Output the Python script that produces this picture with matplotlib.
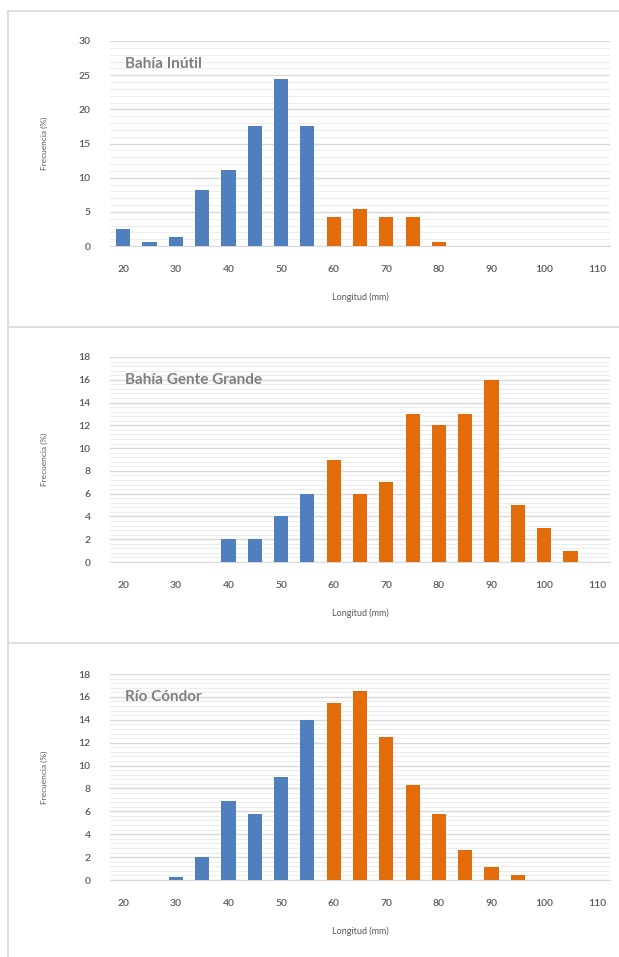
import matplotlib
matplotlib.use("Agg")
import matplotlib.pyplot as plt
from matplotlib.lines import Line2D
from matplotlib.ticker import MultipleLocator

plt.rcParams['font.family'] = ['Lato', 'DejaVu Sans']

# categories: length classes (mm)
longitud = [20, 25, 30, 35, 40, 45, 50, 55, 60, 65, 70, 75, 80, 85, 90, 95, 100, 105, 110]
tick_labels = [20, 30, 40, 50, 60, 70, 80, 90, 100, 110]

sitios = ["Bahía Inútil", "Bahía Gente Grande", "Río Cóndor"]

# frequency (%) per class
bahia_inutil = [2.5, 0.6, 1.3, 8.2, 11.1, 17.5, 24.4, 17.5, 4.2, 5.4, 4.2, 4.2, 0.6, 0, 0, 0, 0, 0, 0]
gente_grande = [0, 0, 0, 0, 2, 2, 4, 6, 9, 6, 7, 13, 12, 13, 16, 5, 3, 1, 0]
rio_condor = [0, 0, 0.3, 2, 6.9, 5.8, 9, 14, 15.5, 16.5, 12.5, 8.3, 5.8, 2.6, 1.1, 0.4, 0, 0, 0]

y_max = [30, 18, 18]
y_step = [5, 2, 2]

corte = 60  # classes from here on are drawn orange
azul = "#4F7FBC"
naranja = "#E36C0A"
gris = "#595959"

fig = plt.figure(figsize=(6.19, 9.57), dpi=100)

W, H = 619, 957
# plot areas in pixels: (top, bottom)
paneles = [(41, 246), (357, 562), (674, 880)]
x0, x1 = 110, 610

for i, serie in enumerate([bahia_inutil, gente_grande, rio_condor]):
    top, bot = paneles[i]
    ax = fig.add_axes([x0 / W, 1 - bot / H, (x1 - x0) / W, (bot - top) / H])
    colores = [azul if l < corte else naranja for l in longitud]
    ax.bar(longitud, serie, width=2.7, color=colores, zorder=3)
    ax.set_xlim(17.5, 112.5)
    ax.set_ylim(0, y_max[i])
    ax.yaxis.set_major_locator(MultipleLocator(y_step[i]))
    ax.yaxis.set_minor_locator(MultipleLocator(y_step[i] / 5))
    ax.set_xticks(tick_labels)
    ax.grid(axis='y', which='major', color='#D9D9D9', linewidth=1.0, zorder=0)
    ax.grid(axis='y', which='minor', color='#EDEDED', linewidth=0.8, zorder=0)
    for s in ['top', 'right', 'left']:
        ax.spines[s].set_visible(False)
    ax.spines['bottom'].set_color('#D9D9D9')
    ax.tick_params(axis='both', which='both', length=0, labelsize=7.5, labelcolor=gris)
    ax.tick_params(axis='x', pad=14)
    ax.tick_params(axis='y', pad=14)
    for lab in ax.get_xticklabels() + ax.get_yticklabels():
        lab.set_fontweight('semibold')
    ax.set_xlabel("Longitud (mm)", fontsize=6.5, color=gris, labelpad=13)
    ax.set_ylabel("Frecuencia (%)", fontsize=6, color=gris, labelpad=22)
    ax.text(0.03, 0.89, sitios[i], transform=ax.transAxes, fontsize=11,
            fontweight='bold', color='#7F7F7F', va='center', ha='left')

# panel frames
borde = '#D9D9D9'
for y in [11, 327, 643]:
    fig.add_artist(Line2D([8 / W, 1], [1 - y / H, 1 - y / H], color=borde, linewidth=1.2))
fig.add_artist(Line2D([8 / W, 8 / W], [0, 1 - 11 / H], color=borde, linewidth=1.2))

fig.savefig("out.png", dpi=100)
